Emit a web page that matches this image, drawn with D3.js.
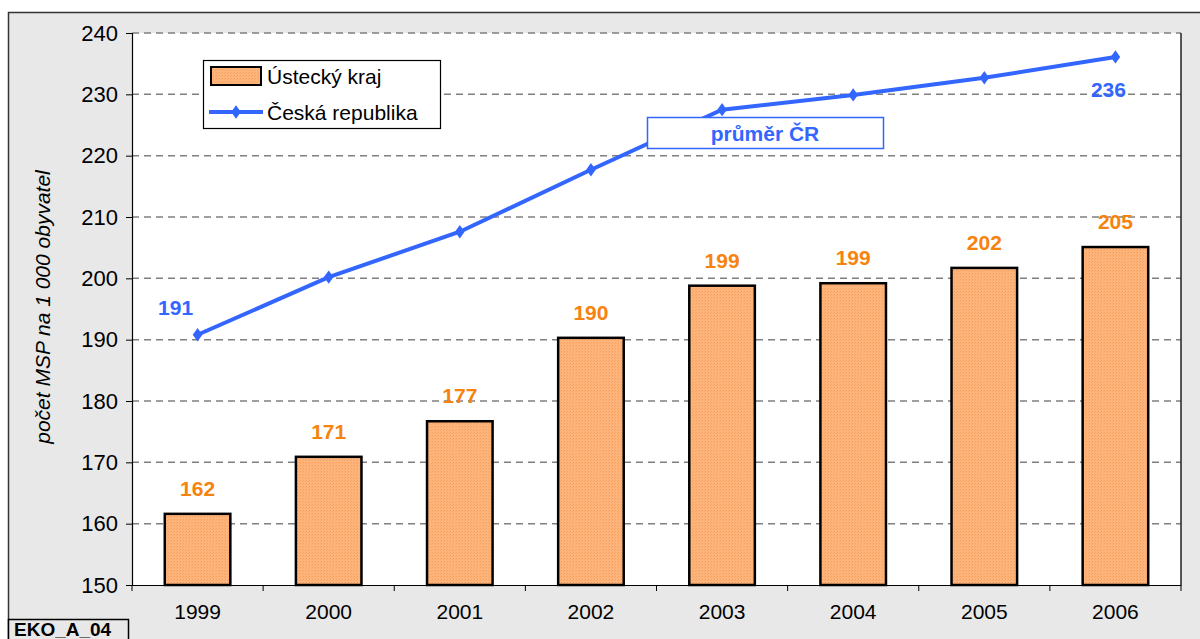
<!DOCTYPE html>
<html><head><meta charset="utf-8">
<script src="https://cdn.jsdelivr.net/npm/d3@7"></script>
<style>body{margin:0;background:#fff;} svg{display:block;font-family:"Liberation Sans",Arial,sans-serif;}</style>
</head><body><svg id="c" width="1200" height="639"></svg>
<script>
const years = ["1999","2000","2001","2002","2003","2004","2005","2006"];
const usteckyKraj = [161.6, 170.9, 176.7, 190.3, 198.8, 199.2, 201.7, 205.1];
const ceskaRepublika = [190.8, 200.2, 207.6, 217.7, 227.5, 229.9, 232.7, 236.1];
const barLabels = ["162","171","177","190","199","199","202","205"];
const yTicks = [150,160,170,180,190,200,210,220,230,240];

const FS = 21;
const svg = d3.select("#c");
const defs = svg.append("defs");
const pat = defs.append("pattern").attr("id","tex").attr("width",3).attr("height",3).attr("patternUnits","userSpaceOnUse");
pat.append("rect").attr("width",3).attr("height",3).attr("fill","#fdb57c");
pat.append("rect").attr("x",0).attr("y",0).attr("width",1).attr("height",1).attr("fill","#f59d5c");
pat.append("rect").attr("x",2).attr("y",1).attr("width",1).attr("height",1).attr("fill","#f8a566");

// outer panel
svg.append("rect").attr("x",8.5).attr("y",12.5).attr("width",1200).attr("height",700)
  .attr("fill","#e8e8e8").attr("stroke","#333").attr("stroke-width",1.5);

const L=132, R=1181, T=33, B=585;
const x = d3.scaleBand().domain(years).range([L,R]).paddingInner(0.5).paddingOuter(0.25);
const xb = d3.scaleBand().domain(years).range([L,R]);
const y = d3.scaleLinear().domain([150,240]).range([B,T]);

svg.append("rect").attr("x",L).attr("y",T).attr("width",R-L).attr("height",B-T).attr("fill","#fff");

// grid
svg.append("g").selectAll("line").data(yTicks.slice(1)).join("line")
  .attr("x1",L).attr("x2",R).attr("y1",d=>y(d)).attr("y2",d=>y(d))
  .attr("stroke","#808080").attr("stroke-width",1.5).attr("stroke-dasharray","7,5");
// right border
svg.append("line").attr("x1",R).attr("x2",R).attr("y1",T).attr("y2",B).attr("stroke","#222").attr("stroke-width",1.5);

// bars
svg.append("g").selectAll("rect").data(usteckyKraj).join("rect")
  .attr("x",(d,i)=>x(years[i])).attr("width",x.bandwidth())
  .attr("y",d=>y(d)).attr("height",d=>B-y(d))
  .attr("fill","url(#tex)").attr("stroke","#000").attr("stroke-width",2.5);

// axes
const ya = svg.append("g").attr("transform",`translate(${L},0)`)
  .call(d3.axisLeft(y).tickValues(yTicks).tickSize(6).tickPadding(8));
ya.select(".domain").attr("stroke","#000").attr("stroke-width",1.2);
ya.selectAll(".tick line").attr("stroke","#000");
ya.selectAll("text").attr("font-size",22).attr("fill","#000").attr("font-family","Liberation Sans, Arial");

const xa = svg.append("g").attr("transform",`translate(0,${B})`)
  .call(d3.axisBottom(xb).tickSize(0).tickPadding(19));
xa.select(".domain").attr("stroke","#000").attr("stroke-width",1.2);
xa.selectAll("text").attr("font-size",FS).attr("fill","#000").attr("font-family","Liberation Sans, Arial");
svg.append("g").selectAll("line").data(d3.range(years.length+1)).join("line")
  .attr("x1",i=>L+i*xb.step()).attr("x2",i=>L+i*xb.step()).attr("y1",B).attr("y2",B+6)
  .attr("stroke","#000");

// y title
svg.append("text").attr("transform","translate(50,307) rotate(-90)").attr("text-anchor","middle")
  .attr("font-size",21).attr("font-style","italic").text("počet MSP na 1 000 obyvatel");

// line
const cx = i=>xb(years[i])+xb.bandwidth()/2;
svg.append("path").datum(ceskaRepublika)
  .attr("d",d3.line().x((d,i)=>cx(i)).y(d=>y(d)))
  .attr("fill","none").attr("stroke","#3366ff").attr("stroke-width",4);
svg.append("g").selectAll("path").data(ceskaRepublika).join("path")
  .attr("d",d3.symbol(d3.symbolDiamond,80)())
  .attr("transform",(d,i)=>`translate(${cx(i)},${y(d)}) scale(1,0.8)`)
  .attr("fill","#3366ff");

// bar labels
svg.append("g").selectAll("text").data(usteckyKraj).join("text")
  .attr("x",(d,i)=>cx(i)).attr("y",d=>y(d)-18).attr("text-anchor","middle")
  .attr("font-size",FS).attr("font-weight","bold").attr("fill","#f7830f").text((d,i)=>barLabels[i]);

// line labels
svg.append("text").attr("x",cx(0)-22).attr("y",y(ceskaRepublika[0])-20).attr("text-anchor","middle")
  .attr("font-size",FS).attr("font-weight","bold").attr("fill","#3366ff").text("191");
svg.append("text").attr("x",cx(7)-7).attr("y",y(ceskaRepublika[7])+40).attr("text-anchor","middle")
  .attr("font-size",FS).attr("font-weight","bold").attr("fill","#3366ff").text("236");

// průměr box
svg.append("rect").attr("x",647.5).attr("y",117.5).attr("width",236).attr("height",31)
  .attr("fill","#fff").attr("stroke","#3366ff").attr("stroke-width",1.5);
svg.append("text").attr("x",765).attr("y",141).attr("text-anchor","middle")
  .attr("font-size",FS).attr("font-weight","bold").attr("fill","#3366ff").text("průměr ČR");

// legend
const lg = svg.append("g");
lg.append("rect").attr("x",203.5).attr("y",60.5).attr("width",237).attr("height",68)
  .attr("fill","#fff").attr("stroke","#000").attr("stroke-width",1.2);
lg.append("rect").attr("x",211).attr("y",67).attr("width",50).attr("height",18)
  .attr("fill","url(#tex)").attr("stroke","#000").attr("stroke-width",2);
lg.append("text").attr("x",267).attr("y",84).attr("font-size",21).text("Ústecký kraj");
lg.append("line").attr("x1",209).attr("x2",263).attr("y1",112).attr("y2",112).attr("stroke","#3366ff").attr("stroke-width",4);
lg.append("path").attr("d",d3.symbol(d3.symbolDiamond,80)()).attr("transform","translate(236,112) scale(1,0.8)").attr("fill","#3366ff");
lg.append("text").attr("x",267).attr("y",120).attr("font-size",21).text("Česká republika");

// code box
svg.append("rect").attr("x",8.5).attr("y",619.5).attr("width",120).attr("height",40).attr("fill","#e8e8e8").attr("stroke","#000").attr("stroke-width",1.5);
svg.append("text").attr("x",14).attr("y",636).attr("font-size",19).attr("font-weight","bold").text("EKO_A_04");
</script></body></html>
